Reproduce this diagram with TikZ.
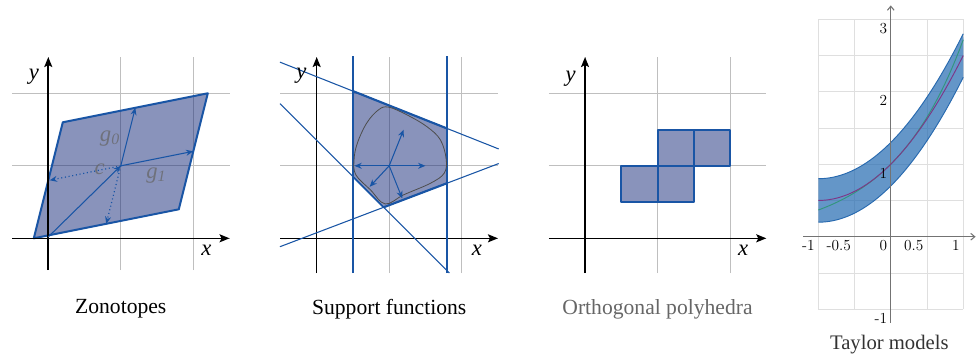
\documentclass[tikz,border=0pt]{standalone}
\usepackage{fontspec}
\setmainfont{Liberation Serif}
\newfontfamily\tickfont{Latin Modern Roman}
\usetikzlibrary{arrows.meta}
\definecolor{setfill}{RGB}{20,40,120}
\definecolor{setline}{RGB}{25,85,165}
\definecolor{tmfill}{RGB}{34,105,176}
\definecolor{tmline}{RGB}{40,105,175}
\definecolor{tmpoly}{RGB}{125,55,135}
\definecolor{tmexp}{RGB}{50,150,125}
\tikzset{
  gridline/.style={gray!50, line width=0.6pt},
  axisline/.style={black, line width=1.2pt, -{Stealth[length=7.5pt,width=6pt,inset=1.5pt]}},
  setshape/.style={fill=setfill, fill opacity=0.5, draw=setline, line width=1.5pt, line join=round},
  supline/.style={setline, line width=0.8pt},
  vec/.style={setline, line width=0.8pt, -{Stealth[length=5.5pt,width=4.5pt]}},
  caption/.style={font=\fontsize{16.2}{19}\selectfont},
  axlabel/.style={font=\fontsize{17}{20}\selectfont\itshape},
  veclabel/.style={font=\fontsize{17}{20}\selectfont\itshape, text=gray!80!black, text opacity=0.75},
  tick/.style={font=\tickfont\fontsize{11.5}{13}\selectfont, anchor=north east, inner sep=2.5pt},
}
\begin{document}
\begin{tikzpicture}[x=54.375pt, y=54.375pt]
\useasboundingbox (0,0) rectangle (13.503,4.924);

% zonotopes
\begin{scope}[shift={(0.666,1.637)}]
  \draw[gridline, step=1] (-0.5,-0.44) grid (2.5,2.5);
  \draw[setshape] (-0.2,0) -- (1.8,0.4) -- (2.2,2) -- (0.2,1.6) -- cycle;
  \draw[axisline] (-0.5,0) -- (2.5,0);
  \draw[axisline] (0,-0.44) -- (0,2.5);
  \coordinate (o1) at (0,0.02);
  \coordinate (c) at (1,1);
  \coordinate (g0) at (1.2,1.8);
  \coordinate (g1) at (2,1.2);
  \coordinate (mg0) at (0.8,0.2);
  \coordinate (mg1) at (0.02,0.8);
  \draw[vec] (o1) -- (c);
  \draw[vec] (c) -- (g0);
  \draw[vec] (c) -- (g1);
  \draw[vec, dotted, line width=0.9pt] (c) -- (mg0);
  \draw[vec, dotted, line width=0.9pt] (c) -- (mg1);
  \node[veclabel] (lg0) at (0.85,1.38) {g\textsubscript{0}};
  \node[veclabel] (lg1) at (1.49,0.87) {g\textsubscript{1}};
  \node[veclabel] (lc) at (0.71,0.95) {c};
  \node[axlabel] (y1) at (-0.2,2.23) {y};
  \node[axlabel] (x1) at (2.18,-0.16) {x};
  \node[caption] (cap1) at (1,-0.975) {Zonotopes};
\end{scope}

% support functions
\begin{scope}[shift={(4.368,1.637)}]
  \draw[gridline, step=1] (-0.5,-0.48) grid (2.5,2.5);
  \fill[setfill, fill opacity=0.5] (0.5,2.0305) -- (1.8,1.514) -- (1.8,0.761) -- (0.9225,0.4275) -- (0.5,0.85) -- cycle;
  \draw[axisline] (-0.5,0) -- (2.5,0);
  \draw[axisline] (0,-0.48) -- (0,2.5);
  \draw[supline] (-0.507,2.43) -- (2.51,1.2325);
  \draw[supline] (-0.507,1.857) -- (1.83,-0.48);
  \draw[supline] (-0.507,-0.116) -- (2.51,1.031);
  \draw[setline, line width=1.6pt] (0.5,2.0305) -- (1.8,1.514);
  \draw[setline, line width=1.6pt] (0.9225,0.4275) -- (1.8,0.761);
  \draw[setline, line width=1.2pt] (0.5,0.85) -- (0.9225,0.4275);
  \draw[setline, line width=1.6pt] (0.5,-0.48) -- (0.5,2.51);
  \draw[setline, line width=1.6pt] (1.8,-0.48) -- (1.8,2.51);
  \draw[black!70, line width=0.6pt] plot[smooth cycle, tension=0.6] coordinates {
    (0.99,1.81) (1.25,1.70) (1.52,1.54) (1.705,1.36) (1.785,1.10) (1.76,0.90)
    (1.57,0.76) (1.20,0.60) (0.945,0.474) (0.74,0.67) (0.54,0.875)
    (0.515,1.08) (0.56,1.31) (0.69,1.59) (0.85,1.77)};
  \coordinate (sc) at (1,1);
  \coordinate (d1) at (0.52,1);
  \coordinate (d2) at (1.5,1);
  \coordinate (d3) at (1.2,1.5);
  \coordinate (d4) at (0.73,0.71);
  \coordinate (d5) at (1.18,0.55);
  \foreach \d in {d1,d2,d3,d4,d5}
    \draw[vec] (sc) -- (\d);
  \node[axlabel] (y2) at (-0.21,2.24) {y};
  \node[axlabel] (x2) at (2.21,-0.16) {x};
  \node[caption] (cap2) at (1,-0.975) {Support functions};
\end{scope}

% orthogonal polyhedra
\begin{scope}[shift={(8.069,1.637)}]
  \draw[gridline, step=1] (-0.5,-0.48) grid (2.5,2.5);
  \draw[axisline] (-0.5,0) -- (2.5,0);
  \draw[axisline] (0,-0.48) -- (0,2.5);
  \foreach \bx/\by in {0.5/0.5, 1/0.5, 1/1, 1.5/1}
    \draw[setshape] (\bx,\by) rectangle ++(0.5,0.5);
  \node[axlabel] (y3) at (-0.2,2.2) {y};
  \node[axlabel] (x3) at (2.18,-0.16) {x};
  \node[caption, text=black!60] (cap3) at (1,-0.975) {Orthogonal polyhedra};
\end{scope}

% taylor models
\begin{scope}[shift={(12.286,1.659)}]
  \draw[gray!25, line width=0.6pt] (-1,-1) grid[step=0.5] (1,3);
  \fill[tmfill, fill opacity=0.7] plot[domain=-1:1, samples=40] (\x,{1+\x+0.5*\x*\x+0.3})
    -- plot[domain=1:-1, samples=40] (\x,{1+\x+0.5*\x*\x-0.3}) -- cycle;
  \draw[tmline, line width=0.7pt] plot[domain=-1:1, samples=40] (\x,{1+\x+0.5*\x*\x+0.3});
  \draw[tmline, line width=0.7pt] plot[domain=-1:1, samples=40] (\x,{1+\x+0.5*\x*\x-0.3});
  \draw[black!55, line width=0.8pt, -{Straight Barb[length=3pt,width=5pt]}] (-1.21,0) -- (1.17,0);
  \draw[black!55, line width=0.8pt, -{Straight Barb[length=3pt,width=5pt]}] (0,-1.19) -- (0,3.19);
  \draw[tmexp, line width=0.7pt] plot[domain=-1:1, samples=40] (\x,{exp(\x)});
  \draw[tmpoly, line width=0.7pt] plot[domain=-1:1, samples=40] (\x,{1+\x+0.5*\x*\x});
  \foreach \t/\n in {-1/xa, -0.5/xb, 0/xc, 0.5/xd, 1/xe}
    \node[tick] (\n) at (\t,0) {\t};
  \foreach \t/\n in {3/ya, 2/yb, 1/yc, -1/yd}
    \node[tick] (\n) at (0,\t) {\t};
  \node[caption, font=\fontsize{15.5}{18}\selectfont, text=black!80] (cap4) at (-0.02,-1.49) {Taylor models};
\end{scope}
\end{tikzpicture}
\end{document}
